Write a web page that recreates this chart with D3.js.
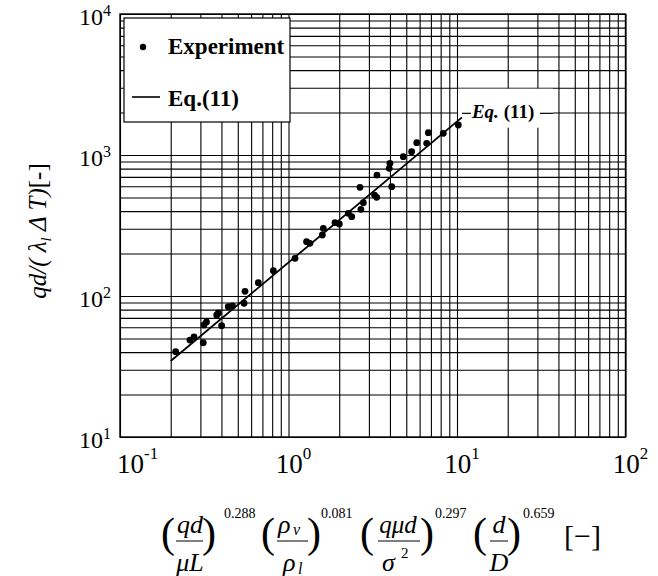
<!DOCTYPE html>
<html>
<head>
<meta charset="utf-8">
<script src="https://cdn.jsdelivr.net/npm/d3@7"></script>
<style>
body { margin: 0; background: #fff; }
text { font-family: "Liberation Serif", "Times New Roman", serif; fill: #000; }
.grid line { stroke: #000; stroke-width: 1.1; }
.grid path { display: none; }
</style>
</head>
<body>
<div id="chart"></div>
<script>
// Data
var expX = [0.214, 0.260, 0.275, 0.312, 0.315, 0.326, 0.375, 0.384, 0.401, 0.439,
            0.465, 0.545, 0.552, 0.662, 0.813, 1.093, 1.28, 1.34, 1.588, 1.609,
            1.888, 2.002, 2.265, 2.372, 2.69, 2.78, 2.656, 3.337, 3.24, 3.35,
            4.10, 3.96, 4.0, 4.80, 5.38, 5.77, 6.61, 6.76, 8.29, 10.18];
var expY = [40.3, 48.7, 51.2, 46.6, 62.3, 65.4, 73.3, 75.8, 61.6, 84.0,
            85.0, 88.8, 108, 124.3, 151.2, 185, 242.7, 236.5, 270.8, 302,
            331, 324, 386, 365, 412, 459, 590, 501, 520, 721,
            596, 805, 873, 973, 1055, 1223, 1210, 1439, 1425, 1632];
// Eq.(11) line end points
var eqX = [0.2, 10.7];
var eqY = [34.6, 1850];

var xMajor = [0.1, 1, 10, 100];
var xExp = ["-1", "0", "1", "2"];
var yMajor = [10, 100, 1000, 10000];
var yExp = ["1", "2", "3", "4"];

var svgWidth = 658;
var svgHeight = 576;
var margin = {top: 14, right: 32.5, bottom: 139, left: 120};
var width = svgWidth - margin.left - margin.right;
var height = svgHeight - margin.top - margin.bottom;

var svg = d3.select("#chart")
    .append("svg")
    .attr("width", svgWidth)
    .attr("height", svgHeight);

var chartGroup = svg.append("g")
    .attr("transform", `translate(${margin.left}, ${margin.top})`);

var xScale = d3.scaleLog().domain([0.1, 100]).range([0, width]);
var yScale = d3.scaleLog().domain([10, 10000]).range([height, 0]);

// grid lines (every 1..9 of each decade)
chartGroup.append("g")
    .attr("class", "grid")
    .attr("transform", `translate(0, ${height})`)
    .call(d3.axisBottom(xScale).tickValues(xScale.ticks()).tickSize(-height).tickFormat(""));

chartGroup.append("g")
    .attr("class", "grid")
    .call(d3.axisLeft(yScale).tickValues(yScale.ticks()).tickSize(-width).tickFormat(""));

// frame
chartGroup.append("rect")
    .attr("width", width)
    .attr("height", height)
    .attr("fill", "none")
    .attr("stroke", "#000")
    .attr("stroke-width", 1.4);

// label box for Eq.(11) on the plot
var eqLabelX = xScale(eqX[1]);
var eqLabelY = yScale(eqY[1]);
chartGroup.append("rect")
    .attr("x", eqLabelX - 4)
    .attr("y", yScale(3000) + 1)
    .attr("width", 95)
    .attr("height", 39)
    .attr("fill", "#fff");
chartGroup.append("line")
    .attr("x1", eqLabelX).attr("x2", eqLabelX + 9)
    .attr("y1", eqLabelY - 4).attr("y2", eqLabelY - 4)
    .attr("stroke", "#000").attr("stroke-width", 1.2);
chartGroup.append("line")
    .attr("x1", eqLabelX + 78).attr("x2", eqLabelX + 91)
    .attr("y1", eqLabelY - 4).attr("y2", eqLabelY - 4)
    .attr("stroke", "#000").attr("stroke-width", 1.2);
var eqText = chartGroup.append("text")
    .attr("x", eqLabelX + 10)
    .attr("y", eqLabelY + 1)
    .style("font-size", "19px")
    .style("font-weight", "bold");
eqText.append("tspan").style("font-style", "italic").text("Eq.");
eqText.append("tspan").text(" (11)");

// Eq.(11) line
var line = d3.line()
    .x((d, i) => xScale(eqX[i]))
    .y(d => yScale(d));
chartGroup.append("path")
    .datum(eqY)
    .attr("d", line)
    .attr("fill", "none")
    .attr("stroke", "#000")
    .attr("stroke-width", 1.8);

// experiment points
chartGroup.selectAll("circle.pt")
    .data(expX)
    .enter()
    .append("circle")
    .attr("class", "pt")
    .attr("cx", d => xScale(d))
    .attr("cy", (d, i) => yScale(expY[i]))
    .attr("r", 3.4)
    .attr("fill", "#000");

// legend
var legend = chartGroup.append("g").attr("transform", "translate(4, 4)");
legend.append("rect")
    .attr("width", 166)
    .attr("height", 104)
    .attr("fill", "#fff")
    .attr("stroke", "#000")
    .attr("stroke-width", 1.2);
legend.append("circle")
    .attr("cx", 19).attr("cy", 29).attr("r", 3.2).attr("fill", "#000");
legend.append("text")
    .attr("x", 44).attr("y", 36)
    .style("font-size", "23px").style("font-weight", "bold")
    .text("Experiment");
legend.append("line")
    .attr("x1", 8).attr("x2", 36).attr("y1", 79).attr("y2", 79)
    .attr("stroke", "#000").attr("stroke-width", 1.6);
legend.append("text")
    .attr("x", 44).attr("y", 88)
    .style("font-size", "23px").style("font-weight", "bold")
    .text("Eq.(11)");

// x tick labels
xMajor.forEach(function(v, i) {
    var t = chartGroup.append("text")
        .attr("x", i === 0 ? xScale(v) - 3 : xScale(v) + 5)
        .attr("y", height + 36)
        .attr("text-anchor", i === 0 ? "start" : "middle")
        .style("font-size", "27px");
    t.append("tspan").text("10");
    t.append("tspan").attr("dy", -14).style("font-size", "17px").text(xExp[i]);
});

// y tick labels
yMajor.forEach(function(v, i) {
    var t = chartGroup.append("text")
        .attr("x", -9)
        .attr("y", yScale(v) + 11)
        .attr("text-anchor", "end")
        .style("font-size", "24px");
    t.append("tspan").text("10");
    t.append("tspan").attr("dy", -9).style("font-size", "16px").text(yExp[i]);
});

// y axis title
var yTitle = svg.append("text")
    .attr("transform", "translate(46, 231) rotate(-90)")
    .attr("text-anchor", "middle")
    .style("font-size", "25px")
    .style("font-style", "italic");
yTitle.append("tspan").text("qd/( λ");
yTitle.append("tspan").attr("dy", 5).style("font-size", "15px").text("l");
yTitle.append("tspan").attr("dy", -5).text(" Δ T)");
yTitle.append("tspan").style("font-style", "normal").text("[-]");

// x axis title: the product of dimensionless groups
var xt = svg.append("g");
function piece(x, y, str, size, italic, anchor) {
    return xt.append("text")
        .attr("x", x).attr("y", y)
        .attr("text-anchor", anchor || "start")
        .style("font-size", size + "px")
        .style("font-style", italic ? "italic" : "normal")
        .text(str);
}
function bar(x1, x2) {
    xt.append("line")
        .attr("x1", x1).attr("x2", x2).attr("y1", 541).attr("y2", 541)
        .attr("stroke", "#000").attr("stroke-width", 1);
}
var parenY = 547, parenSize = 42, numY = 533, denY = 571, expoY = 518;
// (qd / μL)^0.288
piece(161, parenY, "(", parenSize);
piece(190, numY, "qd", 26, true, "middle");
bar(176, 203);
piece(190, denY, "μL", 26, true, "middle");
piece(202, parenY, ")", parenSize);
piece(224, expoY, "0.288", 14);
// (ρv / ρl)^0.081
piece(261, parenY, "(", parenSize);
piece(278, numY, "ρ", 26, true);
piece(293, numY + 2, "v", 16, true);
bar(277, 308);
piece(283, denY, "ρ", 26, true);
piece(298, denY + 3, "l", 16, true);
piece(307, parenY, ")", parenSize);
piece(321, expoY, "0.081", 14);
// (qμd / σ²)^0.297
piece(360, parenY, "(", parenSize);
piece(398, numY, "qμd", 25, true, "middle");
bar(378, 420);
piece(382, denY, "σ", 26, true);
piece(401, denY - 13, "2", 15);
piece(420, parenY, ")", parenSize);
piece(435, expoY, "0.297", 14);
// (d / D)^0.659
piece(473, parenY, "(", parenSize);
piece(499, numY, "d", 26, true, "middle");
bar(490, 508);
piece(499, denY, "D", 26, true, "middle");
piece(507, parenY, ")", parenSize);
piece(523, expoY, "0.659", 14);
piece(564, 546, "[−]", 30);
</script>
</body>
</html>
